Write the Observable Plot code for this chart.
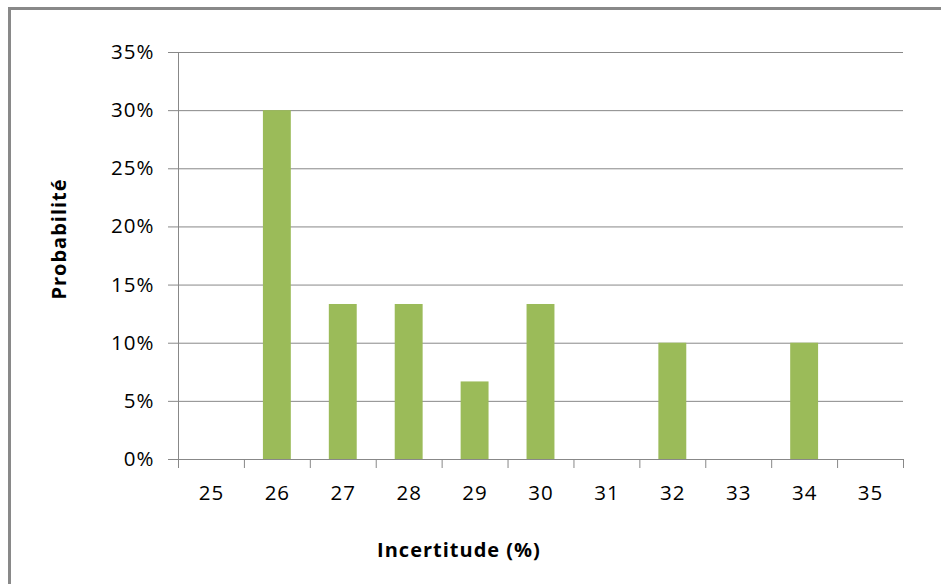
<!DOCTYPE html>
<html><head><meta charset="utf-8">
<script src="https://cdn.jsdelivr.net/npm/d3@7"></script>
<script src="https://cdn.jsdelivr.net/npm/@observablehq/plot@0.6"></script>
<style>
body{margin:0;background:#fff;overflow:hidden;width:941px;height:584px}
#frame{position:absolute;left:8px;top:7px;width:1000px;height:700px;border-left:3px solid #898989;border-top:3px solid #898989;}
#chart{position:absolute;left:0;top:0}
</style></head><body>
<div id="frame"></div>
<div id="chart"></div>
<script>
const categories = [25, 26, 27, 28, 29, 30, 31, 32, 33, 34, 35];
const probabilities = [0, 0.30, 0.1333, 0.1333, 0.0667, 0.1333, 0, 0.10, 0, 0.10, 0];
const yTicks = [0, 0.05, 0.10, 0.15, 0.20, 0.25, 0.30, 0.35];
const xLabel = "Incertitude (%)";
const yLabel = "Probabilité";

const data = categories.map((c, i) => ({c, p: probabilities[i]}));
const edges = [...categories.map(c => c - 0.5), categories[categories.length - 1] + 0.5];
const grey = "#888888";

const chart = Plot.plot({
  width: 941,
  height: 584,
  marginLeft: 178,
  marginRight: 38,
  marginTop: 52,
  marginBottom: 125,
  style: {fontFamily: "'Open Sans', Lato, sans-serif", fontSize: "20px", color: "#000", background: "transparent", letterSpacing: "1px"},
  x: {domain: [edges[0], edges[edges.length - 1]], label: null},
  y: {domain: [0, 0.35], label: null},
  marks: [
    Plot.gridY(yTicks, {stroke: grey, strokeOpacity: 1}),
    Plot.ruleX([edges[0]], {stroke: grey}),
    Plot.rectY(data.filter(d => d.p > 0), {x1: d => d.c - 0.5, x2: d => d.c + 0.5, y: "p", insetLeft: 19, insetRight: 19, fill: "#9BBB59"}),
    Plot.ruleY([0], {stroke: grey}),
    Plot.axisY(yTicks, {tickSize: 10, tickPadding: 14, tickFormat: d3.format(".0%"), stroke: grey, fill: "#000", fontSize: 20.5}),
    Plot.axisX(edges, {tickSize: 9, tickFormat: () => "", stroke: grey}),
    Plot.axisX(categories, {tickSize: 0, tickPadding: 26, tickFormat: d => String(d), fill: "#000", fontSize: 20.5}),
    Plot.text([xLabel], {frameAnchor: "bottom", textAnchor: "middle", lineAnchor: "middle", dx: -82, dy: 91, fontWeight: "bold", fontSize: 20, fill: "#000", letterSpacing: "0.5px"}),
    Plot.text([yLabel], {frameAnchor: "left", textAnchor: "middle", lineAnchor: "middle", dx: -119, dy: -17, rotate: -90, fontWeight: "bold", fontSize: 20, fill: "#000", letterSpacing: "0.5px"})
  ]
});
document.getElementById("chart").appendChild(chart);
</script>
</body></html>
